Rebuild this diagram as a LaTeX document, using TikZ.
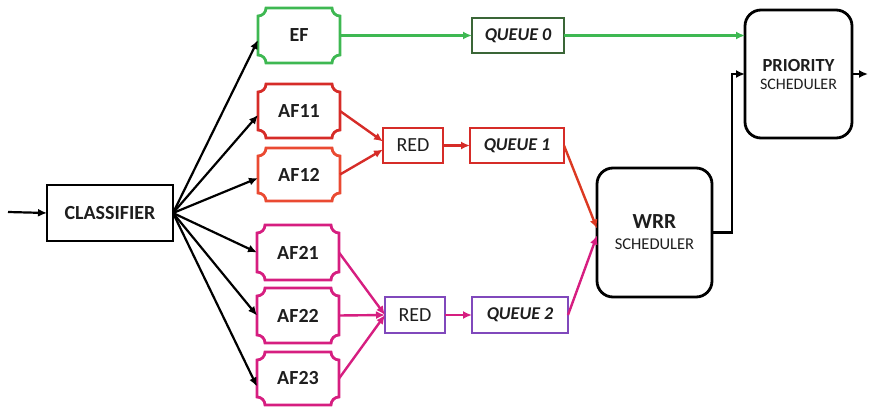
\documentclass[tikz,border=0pt]{standalone}
\usepackage{fontspec}
\setmainfont{Carlito}
\usetikzlibrary{arrows.meta}

\definecolor{txt}{RGB}{30,30,30}
\definecolor{efgreen}{RGB}{62,184,82}
\definecolor{qgreen}{RGB}{58,102,55}
\definecolor{afred}{RGB}{214,44,40}
\definecolor{aforange}{RGB}{234,74,50}
\definecolor{afmag}{RGB}{214,30,128}
\definecolor{qpurple}{RGB}{128,72,188}

% border of a box with concave (scooped) corners around a named node
\newcommand\scoopedborder[2]{%
  \draw[#2, line width=2.8pt]
    ([xshift=8pt]#1.north west) -- ([xshift=-8pt]#1.north east)
    arc[start angle=180, end angle=270, radius=8pt]
    -- ([yshift=8pt]#1.south east)
    arc[start angle=90, end angle=180, radius=8pt]
    -- ([xshift=8pt]#1.south west)
    arc[start angle=0, end angle=90, radius=8pt]
    -- ([yshift=-8pt]#1.north west)
    arc[start angle=270, end angle=360, radius=8pt] -- cycle;
}

\begin{document}
\begin{tikzpicture}[x=1pt,y=1pt,
  every node/.style={text=txt, inner sep=0pt, outer sep=0pt},
  bigbold/.style={font=\fontsize{20}{22}\selectfont\bfseries},
  classbox/.style={bigbold, draw=black, line width=2.8pt, minimum width=126pt, minimum height=56pt},
  flowbox/.style={bigbold, minimum width=82pt, minimum height=54pt},
  redbox/.style={font=\fontsize{20}{22}\selectfont, draw, line width=2.8pt, minimum width=60pt, minimum height=35pt},
  queuebox/.style={font=\fontsize{18}{20}\selectfont\bfseries\itshape, draw, line width=2.8pt, minimum height=35pt},
  schedbox/.style={draw=black, line width=2.8pt, rounded corners=16pt, align=center},
  blackarrow/.style={-{Latex[length=9pt,width=8pt]}, line width=2.2pt, black},
  flowarrow/.style={-{Latex[length=9pt,width=8pt]}, line width=2.4pt},
]
\useasboundingbox (0,0) rectangle (869,408);

% classifier and traffic classes
\node[classbox] (cls) at (110,195) {CLASSIFIER};
\node[flowbox, minimum height=55pt] (ef)   at (299,372.5) {EF};
\node[flowbox] (af11) at (299,297)   {AF11};
\node[flowbox, minimum height=53pt] (af12) at (299,233.5) {AF12};
\node[flowbox, minimum height=55pt] (af21) at (298,155.5) {AF21};
\node[flowbox, minimum height=55pt] (af22) at (298,92.5)  {AF22};
\node[flowbox, minimum height=53pt] (af23) at (298,29.5)  {AF23};

\scoopedborder{ef}{efgreen}
\scoopedborder{af11}{afred}
\scoopedborder{af12}{aforange}
\scoopedborder{af21}{afmag}
\scoopedborder{af22}{afmag}
\scoopedborder{af23}{afmag}

% droppers and queues
\node[redbox, draw=afred] (red1) at (413,262.5) {RED};
\node[redbox, draw=qpurple, minimum height=36pt] (red2) at (415,93) {RED};
\node[queuebox, draw=qgreen, minimum width=92pt] (q0) at (518,372.5) {QUEUE 0};
\node[queuebox, draw=afred, minimum width=94pt] (q1) at (517,262.5) {QUEUE 1};
\node[queuebox, draw=qpurple, minimum width=96pt, minimum height=36pt] (q2) at (520,93) {QUEUE 2};

% schedulers
\node[schedbox, font=\fontsize{16.5}{21}\selectfont, minimum width=115pt, minimum height=129pt] (wrr) at (654.5,175.5)
  {{\fontsize{21.5}{24}\selectfont\bfseries WRR}\\SCHEDULER};
\node[schedbox, font=\fontsize{16}{18}\selectfont, minimum width=107pt, minimum height=128pt] (prio) at (798.5,334)
  {{\fontsize{18.5}{22}\selectfont\bfseries PRIORITY}\\SCHEDULER};

% input and output
\coordinate (in) at (8,196);
\coordinate (out) at (868,334);
\draw[blackarrow] (in) -- (cls.west);
\draw[blackarrow] (prio.east) -- (out);

% classifier fan-out
\draw[blackarrow] (cls.east) -- ([yshift=-4.5pt]ef.west);
\draw[blackarrow] (cls.east) -- ([yshift=-4pt]af11.west);
\draw[blackarrow] (cls.east) -- ([yshift=-3.5pt]af12.west);
\draw[blackarrow] (cls.east) -- (af21.west);
\draw[blackarrow] (cls.east) -- (af22.west);
\draw[blackarrow] (cls.east) -- ([yshift=-8pt]af23.west);

% EF path
\draw[flowarrow, efgreen] (ef.east) -- (q0.west);
\draw[flowarrow, efgreen] (q0.east) -- (prio.west |- q0.east);

% AF1x path
\draw[flowarrow, afred] (af11.east) -- ([yshift=4pt]red1.west);
\draw[flowarrow, afred] (af12.east) -- ([yshift=-4pt]red1.west);
\draw[flowarrow, afred] (red1.east) -- (q1.west);
\draw[flowarrow, afred!85!orange] (q1.east) -- ([yshift=4pt]wrr.west);

% AF2x path
\draw[flowarrow, afmag] (af21.east) -- (red2.west);
\draw[flowarrow, afmag] (af22.east) -- (red2.west);
\draw[flowarrow, afmag] (af23.east) -- (red2.west);
\draw[flowarrow, afmag] (red2.east) -- (q2.west);
\draw[flowarrow, afmag] (q2.east) -- ([yshift=-3pt]wrr.west);

% WRR into priority scheduler
\draw[blackarrow] (wrr.east) -- ++(20,0) |- (prio.west);
\end{tikzpicture}
\end{document}
